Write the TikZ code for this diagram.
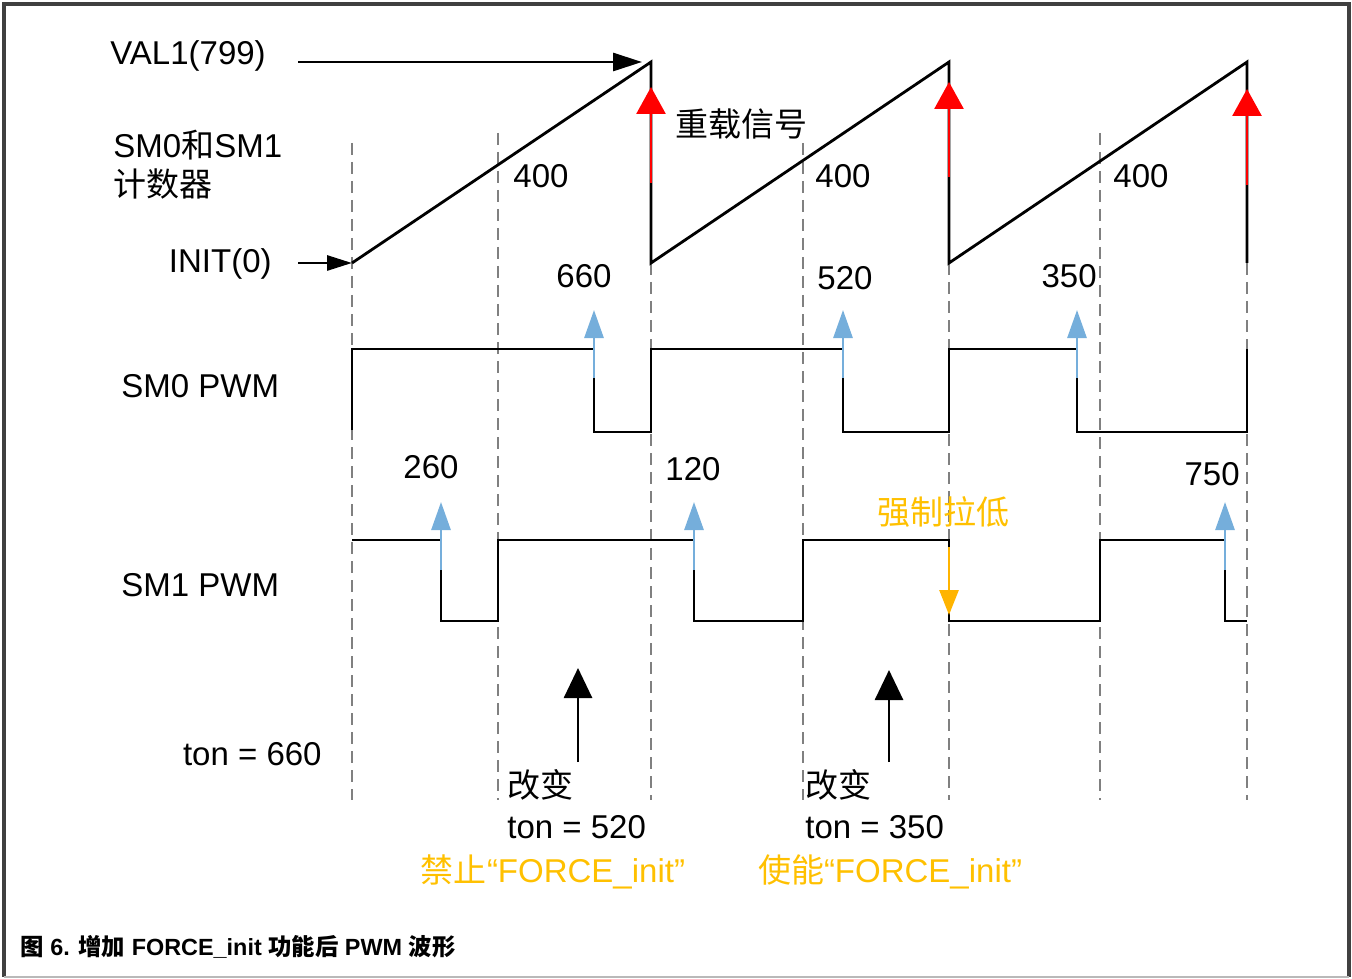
\documentclass[tikz,border=0pt]{standalone}
\usepackage{fontspec}
\setmainfont{Liberation Sans}
\newfontfamily\cjk{Noto Sans CJK SC}
\usetikzlibrary{arrows.meta}
\definecolor{reloadred}{RGB}{255, 0, 0}
\definecolor{cmpblue}{RGB}{117, 174, 219}
\definecolor{forceorange}{RGB}{255, 180, 0}
\definecolor{forcetext}{RGB}{255, 192, 0}
\definecolor{gridgray}{RGB}{128, 128, 128}
\definecolor{framegray}{RGB}{64, 64, 64}
\tikzset{
  wave/.style={line width=1.4pt, line join=miter},
  gridline/.style={gridgray, line width=1.15pt, dash pattern=on 6pt off 3.5pt},
  reloadarrow/.style={reloadred, line width=1.4pt, -{Triangle[length=13.5pt, width=14.5pt]}},
  cmparrow/.style={cmpblue, line width=1.4pt, -{Triangle[length=14pt, width=9.5pt]}},
  forcearrow/.style={forceorange, line width=1.4pt, -{Triangle[length=12.5pt, width=9.5pt]}},
  eventarrow/.style={black, line width=1.4pt, -{Triangle[length=15pt, width=14pt]}},
}

\begin{document}
\begin{tikzpicture}[x=0.5pt, y=-0.5pt, every node/.style={font=\fontsize{16.5}{20}\selectfont, inner sep=0pt}]
  \useasboundingbox (0,0) rectangle (1352,978);
  % frame
  \draw[framegray, line width=2pt] (4,977) -- (4,4) -- (1349,4) -- (1349,977);
  \draw[gray!55, line width=1pt] (4,977) -- (1349,977);

  % period / update marks
  \foreach \x/\ys in {352/143, 498/133, 651/263, 803/143, 949/263, 1100/133, 1247/263}{
    \draw[gridline] (\x,\ys) -- (\x,800);
  }

  % counter (sawtooth)
  \coordinate (init) at (352,263);
  \coordinate (top1) at (651,62);
  \coordinate (top2) at (949,62);
  \coordinate (top3) at (1247,62);
  \draw[wave] (init) -- (top1) -- (651,263) -- (top2) -- (949,263) -- (top3) -- (1247,263);

  \node[anchor=base west] (val) at (110,65) {VAL1(799)};
  \coordinate (valfrom) at (298,62);
  \coordinate (valto) at (642,62);
  \draw[wave, -{Triangle[length=14.5pt, width=9pt]}] (valfrom) -- (valto);
  \node[anchor=base west] (cnt) at (113,158) {SM0{\cjk 和}SM1};
  \node[anchor=base west] (cnt2) at (113,197) {\cjk 计数器};
  \node[anchor=base east] (ini) at (272,273) {INIT(0)};
  \coordinate (inifrom) at (298,263);
  \draw[wave, -{Triangle[length=12.5pt, width=7.5pt]}] (inifrom) -- (init);

  \foreach \x in {513, 815, 1113}{
    \node[anchor=base west] (mid\x) at (\x,188) {400};
  }
  % reload signal
  \foreach \x/\lo/\hi in {651/183/87, 949/177/82, 1247/185/89}{
    \coordinate (rl\x) at (\x,\lo);
    \coordinate (rh\x) at (\x,\hi);
    \draw[reloadarrow] (rl\x) -- (rh\x);
  }
  \node[anchor=base west] (reload) at (675,137) {\cjk 重载信号};

  % SM0 PWM
  \node[anchor=base west] (sm0) at (121,397) {SM0 PWM};
  \draw[wave] (352,430) -- (352,349) -- (594,349) -- (594,432) -- (651,432) -- (651,349)
    -- (843,349) -- (843,432) -- (949,432) -- (949,349) -- (1077,349) -- (1077,432)
    -- (1247,432) -- (1247,349);
  \foreach \x in {594, 843, 1077}{
    \coordinate (c0lo\x) at (\x,378);
    \coordinate (c0hi\x) at (\x,310);
    \draw[cmparrow] (c0lo\x) -- (c0hi\x);
  }
  \node[anchor=base] (v660) at (584,287) {660};
  \node[anchor=base west] (v520) at (817,290) {520};
  \node[anchor=base east] (v350) at (1097,288) {350};

  % SM1 PWM
  \node[anchor=base west] (sm1) at (121,596) {SM1 PWM};
  \draw[wave] (352,540) -- (441,540) -- (441,621) -- (498,621) -- (498,540) -- (694,540)
    -- (694,621) -- (803,621) -- (803,540) -- (949,540) -- (949,621) -- (1100,621)
    -- (1100,540) -- (1225,540) -- (1225,621) -- (1247,621);
  \foreach \x in {441, 694, 1225}{
    \coordinate (c1lo\x) at (\x,570);
    \coordinate (c1hi\x) at (\x,502);
    \draw[cmparrow] (c1lo\x) -- (c1hi\x);
  }
  \node[anchor=base] (v260) at (431,478) {260};
  \node[anchor=base west] (v120) at (665,480) {120};
  \node[anchor=base east] (v750) at (1240,485) {750};

  % forced low
  \coordinate (fhi) at (949,547);
  \coordinate (flo) at (949,615);
  \draw[forcearrow] (fhi) -- (flo);
  \node[anchor=base west, text=forcetext] (force) at (877,524) {\cjk 强制拉低};

  % ton changes
  \node[anchor=base east] (ton0) at (322,765) {ton = 660};
  \foreach \x/\tip/\lx/\ton in {578/668/507/520, 889/670/805/350}{
    \coordinate (evlo\x) at (\x,762);
    \coordinate (evhi\x) at (\x,\tip);
    \draw[eventarrow] (evlo\x) -- (evhi\x);
    \node[anchor=base west] (chg\x) at (\lx,797) {\cjk 改变};
    \node[anchor=base west] (ton\x) at (\lx,838) {ton = \ton};
  }
  \node[anchor=base, text=forcetext] (dis) at (553,882) {{\cjk 禁止}“FORCE\_init”};
  \node[anchor=base, text=forcetext] (ena) at (890,882) {{\cjk 使能}“FORCE\_init”};

  % caption
  \node[anchor=base west, font=\bfseries\fontsize{11.7}{14}\selectfont] (cap) at (20,955)
    {{\cjk 图} 6. {\cjk 增加} FORCE\_init {\cjk 功能后} PWM {\cjk 波形}};
\end{tikzpicture}
\end{document}
